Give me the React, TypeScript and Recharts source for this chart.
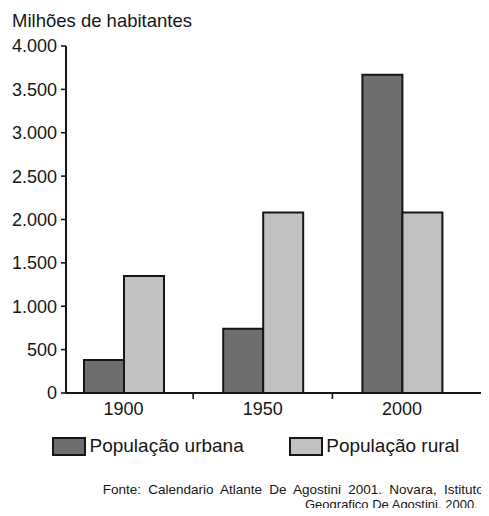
import React from 'react';
import { BarChart, Bar, XAxis, YAxis, Legend } from 'recharts';

const years = ['1900', '1950', '2000'];
const urbana = [380, 740, 3670];
const rural = [1350, 2080, 2080];
const yTicks = [0, 500, 1000, 1500, 2000, 2500, 3000, 3500, 4000];
const seriesNames = ['População urbana', 'População rural'];
const titleText = 'Milhões de habitantes';
const sourceLines = [
  'Fonte: Calendario Atlante De Agostini 2001. Novara, Istituto',
  'Geografico De Agostini, 2000.',
];

const data = years.map((y, i) => ({ year: y, urbana: urbana[i], rural: rural[i] }));

const FONT = '"Liberation Sans", Arial, Helvetica, sans-serif';
const INK = '#161616';

const fmt = (v: number) => String(v).replace(/\B(?=(\d{3})+(?!\d))/g, '.');

const CategoryTick = (props: any) => {
  const { x, y, payload, index, visibleTicksCount } = props;
  const half = payload && typeof payload.offset === 'number' ? payload.offset : 0;
  const last = (visibleTicksCount ?? years.length) - 1;
  return (
    <g>
      <text x={x} y={y + 22} textAnchor="middle" fontSize={18} fill={INK} fontFamily={FONT}>
        {payload.value}
      </text>
      {index < last && (
        <line x1={x + half} x2={x + half} y1={y} y2={y + 6} stroke={INK} strokeWidth={1.6} />
      )}
    </g>
  );
};

const LegendContent = (props: any) => {
  const payload = [...(props.payload || [])].sort(
    (a: any, b: any) => seriesNames.indexOf(a.value) - seriesNames.indexOf(b.value)
  );
  return (
    <div style={{ display: 'flex', alignItems: 'center', height: 20, fontSize: 19, lineHeight: '20px', fontFamily: FONT, color: INK }}>
      {payload.map((p: any, i: number) => (
        <div key={i} style={{ display: 'flex', alignItems: 'center', marginLeft: i === 0 ? 44 : 45 }}>
          <svg width={34} height={19} style={{ display: 'block' }}>
            <rect x={1} y={1} width={32} height={17} fill={p.payload?.fill ?? p.color} stroke={INK} strokeWidth={2} />
          </svg>
          <span style={{ marginLeft: 3.5, whiteSpace: 'nowrap' }}>{p.value}</span>
        </div>
      ))}
    </div>
  );
};

export default function App() {
  return (
    <div style={{ position: 'relative', width: 481, height: 508, marginBottom: -8, overflow: 'hidden', background: '#fff', fontFamily: FONT }}>
      <div style={{ position: 'absolute', left: 4, top: 3.2, fontSize: 18.5, lineHeight: '20px', color: INK, whiteSpace: 'nowrap' }}>
        {titleText}
      </div>
      <BarChart
        width={481}
        height={470}
        data={data}
        margin={{ top: 38, right: 0, bottom: 22, left: 0 }}
        barGap={0}
        barSize={40}
      >
        <XAxis
          dataKey="year"
          height={43}
          padding={{ left: -12, right: 17.4 }}
          axisLine={{ stroke: INK, strokeWidth: 2 }}
          tickLine={false}
          tickSize={0}
          tickMargin={0}
          tick={<CategoryTick />}
          interval={0}
        />
        <YAxis
          width={58}
          domain={[0, 4000]}
          ticks={yTicks}
          tickFormatter={fmt}
          axisLine={{ stroke: INK, strokeWidth: 2 }}
          tickLine={{ stroke: INK, strokeWidth: 1.6 }}
          tickSize={5}
          tickMargin={4}
          tick={{ fontSize: 18, fill: INK, fontFamily: FONT }}
          interval={0}
        />
        <Legend verticalAlign="bottom" align="left" content={<LegendContent />} />
        <Bar dataKey="urbana" name={seriesNames[0]} fill="#6f6e6c" stroke={INK} strokeWidth={2} isAnimationActive={false} />
        <Bar dataKey="rural" name={seriesNames[1]} fill="#c1c1c1" stroke={INK} strokeWidth={2} isAnimationActive={false} />
      </BarChart>
      <div style={{ position: 'absolute', left: 94.7, top: 473.5, fontSize: 13.5, lineHeight: '15px', wordSpacing: 3.5, color: INK, whiteSpace: 'nowrap' }}>
        {sourceLines[0]}
      </div>
      <div style={{ position: 'absolute', left: 297, top: 488.5, fontSize: 13, lineHeight: '15px', color: INK, whiteSpace: 'nowrap' }}>
        {sourceLines[1]}
      </div>
    </div>
  );
}
